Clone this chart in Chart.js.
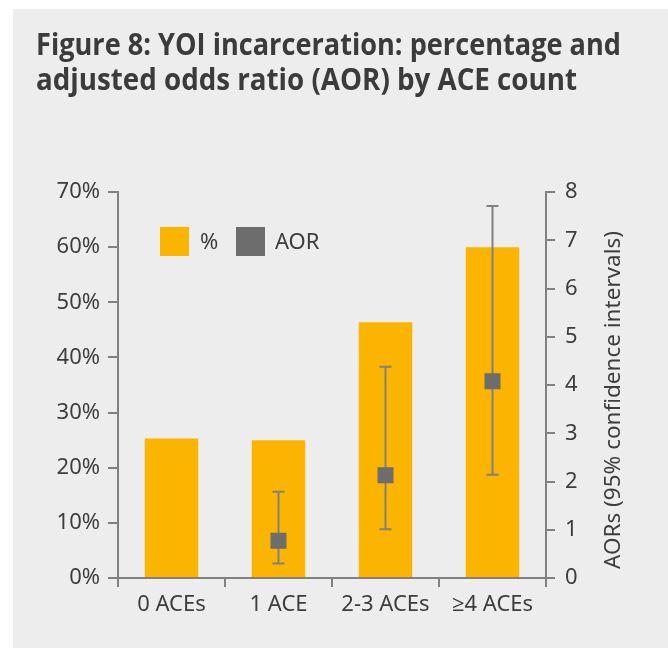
<!DOCTYPE html>
<html lang="en">
<head>
    <meta charset="UTF-8">
    <title>Figure 8: YOI incarceration</title>
    <script src="https://cdn.jsdelivr.net/npm/chart.js"></script>
    <style>
        html, body { margin: 0; padding: 0; background: #fff; }
        #wrap { width: 668px; height: 648px; }
    </style>
</head>
<body>
<div id="wrap"><canvas id="aceChart" width="668" height="648"></canvas></div>
<script>
// values
const categories = ['0 ACEs', '1 ACE', '2-3 ACEs', '\u22654 ACEs'];
const pctValues = [25.3, 25.0, 46.4, 60.0];      // % incarcerated
const aorValues = [null, 0.77, 2.13, 4.08];      // adjusted odds ratio
const aorLow = [null, 0.30, 1.01, 2.14];         // 95% CI lower
const aorHigh = [null, 1.79, 4.38, 7.71];        // 95% CI upper
const pctTicks = [0, 10, 20, 30, 40, 50, 60, 70];
const aorTicks = [0, 1, 2, 3, 4, 5, 6, 7, 8];

const titleLines = ['Figure 8: YOI incarceration: percentage and', 'adjusted odds ratio (AOR) by ACE count'];
const rightAxisTitle = 'AORs (95% confidence intervals)';

const ORANGE = '#fbb400';
const GREY = '#6d6d6d';
const AXIS = '#808080';
const TEXT = '#3d3d3d';
const FONT = '"Noto Sans", "Open Sans", sans-serif';

const panelPlugin = {
    id: 'panel',
    beforeDraw(chart) {
        const ctx = chart.ctx;
        ctx.save();
        ctx.fillStyle = '#fff';
        ctx.fillRect(0, 0, chart.width, chart.height);
        ctx.fillStyle = '#ededed';
        ctx.fillRect(13, 9, chart.width - 13, chart.height - 9);
        ctx.restore();
    },
    afterDraw(chart) {
        const ctx = chart.ctx;
        const area = chart.chartArea;
        ctx.save();
        // title, stretched to the width of the original condensed face
        ctx.fillStyle = '#3b3b3b';
        ctx.font = 'bold 30px "Liberation Sans Narrow", "Open Sans", sans-serif';
        ctx.textBaseline = 'alphabetic';
        const targets = [[55, 585], [90, 541]];
        titleLines.forEach((line, i) => {
            const w = ctx.measureText(line).width;
            ctx.save();
            ctx.translate(36, targets[i][0]);
            ctx.scale(targets[i][1] / w, 1);
            ctx.fillText(line, 0, 0);
            ctx.restore();
        });

        // legend inside plot
        ctx.font = '22px ' + FONT;
        ctx.textBaseline = 'middle';
        ctx.fillStyle = ORANGE;
        ctx.fillRect(area.left + 42, area.top + 35, 29, 29);
        ctx.fillStyle = TEXT;
        ctx.fillText(chart.data.datasets[0].label, area.left + 82, area.top + 51);
        ctx.fillStyle = GREY;
        ctx.fillRect(area.left + 118, area.top + 35, 29, 29);
        ctx.fillStyle = TEXT;
        ctx.fillText(chart.data.datasets[1].label, area.left + 157, area.top + 51);

        // right axis title, reading bottom to top
        const y2 = chart.scales.y2;
        ctx.translate(y2.right - 54, (area.top + area.bottom) / 2 + 15);
        ctx.rotate(-Math.PI / 2);
        ctx.textAlign = 'center';
        ctx.font = '22.5px ' + FONT;
        ctx.fillText(rightAxisTitle, 0, 0);
        ctx.restore();
    },
    beforeDatasetDraw(chart, args) {
        if (args.index !== 1) return;
        const ctx = chart.ctx;
        const x = chart.scales.x;
        const y2 = chart.scales.y2;
        ctx.save();
        ctx.strokeStyle = AXIS;
        ctx.lineWidth = 2;
        aorValues.forEach((v, i) => {
            if (v === null) return;
            const px = x.getPixelForValue(i);
            const top = y2.getPixelForValue(aorHigh[i]);
            const bot = y2.getPixelForValue(aorLow[i]);
            ctx.beginPath();
            ctx.moveTo(px, top); ctx.lineTo(px, bot);
            ctx.moveTo(px - 6, top); ctx.lineTo(px + 6, top);
            ctx.moveTo(px - 6, bot); ctx.lineTo(px + 6, bot);
            ctx.stroke();
        });
        ctx.restore();
    }
};

const ctx = document.getElementById('aceChart').getContext('2d');
new Chart(ctx, {
    type: 'bar',
    data: {
        labels: categories,
        datasets: [
            {
                label: '%',
                data: pctValues,
                backgroundColor: ORANGE,
                categoryPercentage: 0.5,
                barPercentage: 1,
                yAxisID: 'y',
                order: 2
            },
            {
                type: 'line',
                label: 'AOR',
                data: aorValues,
                showLine: false,
                pointStyle: 'rect',
                pointRadius: 11.3,
                pointBorderWidth: 0,
                pointBackgroundColor: GREY,
                borderColor: GREY,
                yAxisID: 'y2',
                order: 1
            }
        ]
    },
    options: {
        responsive: false,
        animation: false,
        devicePixelRatio: 1,
        layout: { padding: { left: 13, top: 192, right: 0, bottom: 0 } },
        plugins: {
            legend: { display: false },
            tooltip: { enabled: false }
        },
        scales: {
            x: {
                grid: { offset: true, drawOnChartArea: false, tickLength: 9, color: AXIS, lineWidth: 2 },
                border: { color: AXIS, width: 2 },
                ticks: { color: TEXT, font: { family: FONT, size: 22 }, padding: 5 },
                afterFit(scale) { scale.height = 70; }
            },
            y: {
                position: 'left',
                min: 0,
                max: 70,
                afterBuildTicks(scale) { scale.ticks = pctTicks.map(v => ({ value: v })); },
                grid: { drawOnChartArea: false, tickLength: 10, color: AXIS, lineWidth: 2 },
                border: { color: AXIS, width: 2 },
                ticks: { color: TEXT, font: { family: FONT, size: 22 }, padding: 8, callback: v => v + '%' },
                afterFit(scale) { scale.width = 105; }
            },
            y2: {
                position: 'right',
                min: 0,
                max: 8,
                afterBuildTicks(scale) { scale.ticks = aorTicks.map(v => ({ value: v })); },
                grid: { drawOnChartArea: false, tickLength: 9, color: AXIS, lineWidth: 2 },
                border: { color: AXIS, width: 2 },
                ticks: { color: TEXT, font: { family: FONT, size: 22 }, padding: 10 },
                afterFit(scale) { scale.width = 122; }
            }
        }
    },
    plugins: [panelPlugin]
});
</script>
</body>
</html>
